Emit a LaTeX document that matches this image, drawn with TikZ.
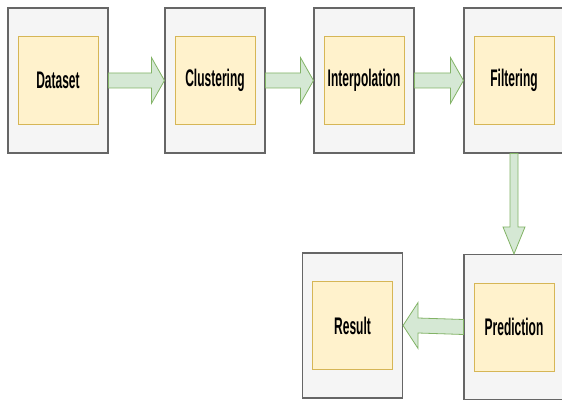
\documentclass[tikz,border=0pt]{standalone}
\usepackage{fontspec}
\newfontfamily\lab{Liberation Sans}[FakeStretch=0.5]
\usetikzlibrary{calc}
\definecolor{outfill}{HTML}{F5F5F5}
\definecolor{outdraw}{HTML}{666666}
\definecolor{infill}{HTML}{FFF2CC}
\definecolor{indraw}{HTML}{D6B656}
\definecolor{arrfill}{HTML}{D5E8D4}
\definecolor{arrdraw}{HTML}{82B366}
\tikzset{
  outerbox/.style={draw=outdraw, fill=outfill, line width=1.1pt, minimum width=100pt, minimum height=145pt, inner sep=0pt},
  innerbox/.style={draw=indraw, fill=infill, line width=0.8pt, minimum width=80pt, minimum height=88pt, inner sep=0pt,
    font=\lab\bfseries\fontsize{24pt}{26pt}\selectfont, text=black},
  bigarr/.style={draw=arrdraw, fill=arrfill, line width=0.8pt, line join=miter}
}
\begin{document}
\begin{tikzpicture}[x=1pt,y=-1pt]
\useasboundingbox (0,0) rectangle (562,403);
\clip (0,0) rectangle (562,403);
% outer boxes
\node[outerbox] (ds) at (58,80.5) {};
\node[outerbox] (cl) at (215,80.5) {};
\node[outerbox] (ip) at (364,80.5) {};
\node[outerbox] (fi) at (514,80.5) {};
\node[outerbox] (pr) at (514,327) {};
\node[outerbox] (re) at (352.5,325.5) {};
% inner boxes
\node[innerbox] (dsi) at (ds) {Dataset};
\node[innerbox] (cli) at (cl) {Clustering};
\node[innerbox] (ipi) at (ip) {Interpolation};
\node[innerbox] (fii) at (fi) {Filtering};
\node[innerbox] (pri) at (pr) {Prediction};
\node[innerbox] (rei) at (re) {Result};
% right arrows
\foreach \a/\b in {ds/cl, cl/ip, ip/fi}{
  \path[bigarr] ($(\a.east)+(0,-7.5)$) -- ($(\b.west)+(-13,-7.5)$) -- ($(\b.west)+(-13,-23)$)
    -- (\b.west) -- ($(\b.west)+(-13,23)$) -- ($(\b.west)+(-13,7.5)$) -- ($(\a.east)+(0,7.5)$) -- cycle;
}
% down arrow
\path[bigarr] ($(fi.south)+(-4,0)$) -- ($(pr.north)+(-4,-27)$) -- ($(pr.north)+(-11,-27)$)
  -- (pr.north) -- ($(pr.north)+(11,-27)$) -- ($(pr.north)+(4,-27)$) -- ($(fi.south)+(4,0)$) -- cycle;
% left arrow
\path[bigarr] ($(pr.west)+(0,-7.5)$) -- ($(re.east)+(15,-7.5)$) -- ($(re.east)+(15,-23)$)
  -- (re.east) -- ($(re.east)+(15,23)$) -- ($(re.east)+(15,7.5)$) -- ($(pr.west)+(0,7.5)$) -- cycle;
\end{tikzpicture}
\end{document}
